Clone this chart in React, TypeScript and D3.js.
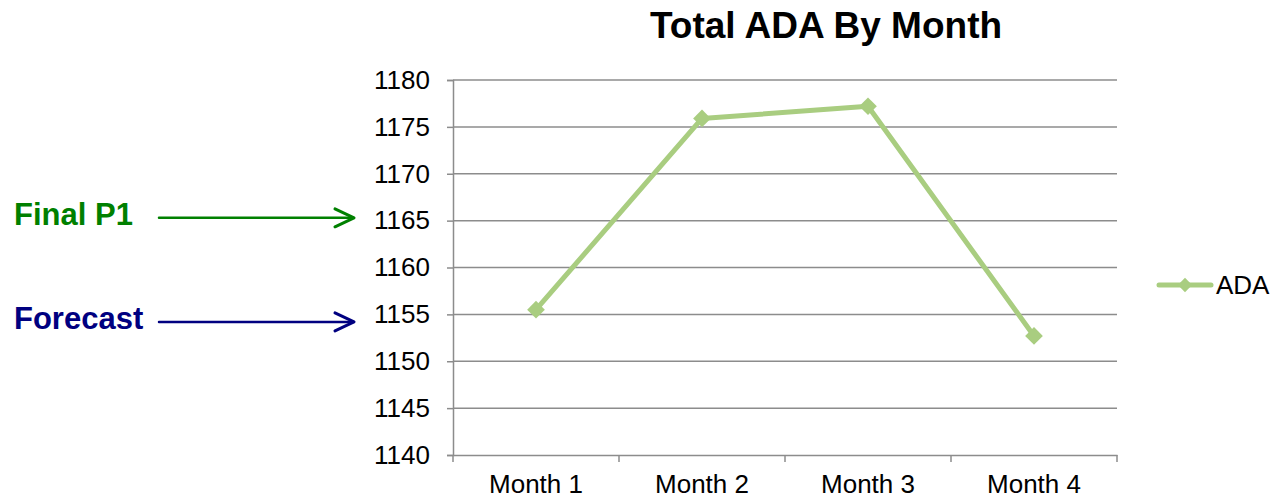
import React, { useRef, useEffect } from "react";
import * as d3 from "d3";

const months = ["Month 1", "Month 2", "Month 3", "Month 4"];
const adaValues = [1155.5, 1175.9, 1177.2, 1152.7];
const yTicks = [1140, 1145, 1150, 1155, 1160, 1165, 1170, 1175, 1180];
// arrows point at these levels on the value axis
const callouts = [
  { label: "Final P1", value: 1165.3, color: "#008000" },
  { label: "Forecast", value: 1154.2, color: "#000080" },
];

const W = 1272;
const H = 498;
const lineColor = "#a9cd80";
const gridColor = "#8c8c8c";
const font = "'Liberation Sans', Arial, sans-serif";

export default function App() {
  const svgRef = useRef<SVGSVGElement>(null);

  useEffect(() => {
    const svg = d3.select(svgRef.current);
    svg.selectAll("*").remove();

    const left = 453, right = 1117, top = 80, bottom = 455;

    const x = d3.scaleBand().domain(months).range([left, right]).padding(0);
    const y = d3.scaleLinear().domain([1140, 1180]).range([bottom, top]);

    // title
    svg.append("text")
      .attr("x", 826).attr("y", 38)
      .attr("text-anchor", "middle")
      .attr("font-family", font).attr("font-weight", "bold")
      .attr("font-size", 37).attr("fill", "#000")
      .text("Total ADA By Month");

    // grid lines
    svg.append("g").selectAll("line")
      .data(yTicks.filter((d) => d !== 1140))
      .join("line")
      .attr("x1", left).attr("x2", right)
      .attr("y1", (d) => y(d)).attr("y2", (d) => y(d))
      .attr("stroke", gridColor).attr("stroke-width", 1.5);

    // y axis
    const yAxis = svg.append("g")
      .attr("transform", `translate(${left},0)`)
      .call(d3.axisLeft(y).tickValues(yTicks).tickSize(6).tickPadding(17).tickFormat(d3.format("d")));
    yAxis.select(".domain").attr("stroke", gridColor).attr("stroke-width", 1.5);
    yAxis.selectAll(".tick line").attr("stroke", gridColor).attr("stroke-width", 1.5);
    yAxis.selectAll(".tick text")
      .attr("font-family", font).attr("font-size", 26).attr("fill", "#000");

    // x axis
    const xAxis = svg.append("g")
      .attr("transform", `translate(0,${bottom})`)
      .call(d3.axisBottom(x).tickSize(0).tickPadding(20));
    xAxis.select(".domain").attr("stroke", gridColor).attr("stroke-width", 1.5);
    xAxis.selectAll(".tick text")
      .attr("font-family", font).attr("font-size", 26).attr("fill", "#000");
    // boundary ticks between categories
    const bounds = months.map((m) => x(m) as number).concat([right]);
    svg.append("g").selectAll("line")
      .data(bounds)
      .join("line")
      .attr("x1", (d) => d).attr("x2", (d) => d)
      .attr("y1", bottom).attr("y2", bottom + 7)
      .attr("stroke", gridColor).attr("stroke-width", 1.5);

    const cx = (m: string) => (x(m) as number) + x.bandwidth() / 2;

    // line series
    const line = d3.line<number>()
      .x((_, i) => cx(months[i]))
      .y((d) => y(d));
    svg.append("path")
      .datum(adaValues)
      .attr("d", line)
      .attr("fill", "none")
      .attr("stroke", lineColor).attr("stroke-width", 5)
      .attr("stroke-linejoin", "round").attr("stroke-linecap", "round");

    const diamond = d3.symbol().type(d3.symbolDiamond2).size(200);
    svg.append("g").selectAll("path")
      .data(adaValues)
      .join("path")
      .attr("d", diamond)
      .attr("transform", (d, i) => `translate(${cx(months[i])},${y(d)})`)
      .attr("fill", lineColor);

    // legend
    const lg = svg.append("g").attr("transform", "translate(1157,285)");
    lg.append("line").attr("x1", 2).attr("x2", 54).attr("y1", 0).attr("y2", 0)
      .attr("stroke", lineColor).attr("stroke-width", 5).attr("stroke-linecap", "round");
    lg.append("path").attr("d", d3.symbol().type(d3.symbolDiamond2).size(130))
      .attr("transform", "translate(28,0)").attr("fill", lineColor);
    lg.append("text").attr("x", 59).attr("y", 9)
      .attr("font-family", font).attr("font-size", 26).attr("fill", "#000")
      .text("ADA");

    // callouts with arrows
    callouts.forEach((c) => {
      const yy = y(c.value);
      const g = svg.append("g");
      g.append("text")
        .attr("x", 14).attr("y", yy + 7)
        .attr("font-family", font).attr("font-weight", "bold")
        .attr("font-size", 31).attr("fill", c.color)
        .text(c.label);
      g.append("line")
        .attr("x1", 159).attr("x2", 353).attr("y1", yy).attr("y2", yy)
        .attr("stroke", c.color).attr("stroke-width", 2.5).attr("stroke-linecap", "round");
      g.append("path")
        .attr("d", `M335,${yy - 9} L354,${yy} L335,${yy + 9}`)
        .attr("fill", "none").attr("stroke", c.color).attr("stroke-width", 3)
        .attr("stroke-linecap", "round").attr("stroke-linejoin", "round");
    });
  }, []);

  return (
    <svg
      ref={svgRef}
      width={W}
      height={H}
      style={{ position: "absolute", left: 0, top: 0, background: "#fff" }}
    />
  );
}
